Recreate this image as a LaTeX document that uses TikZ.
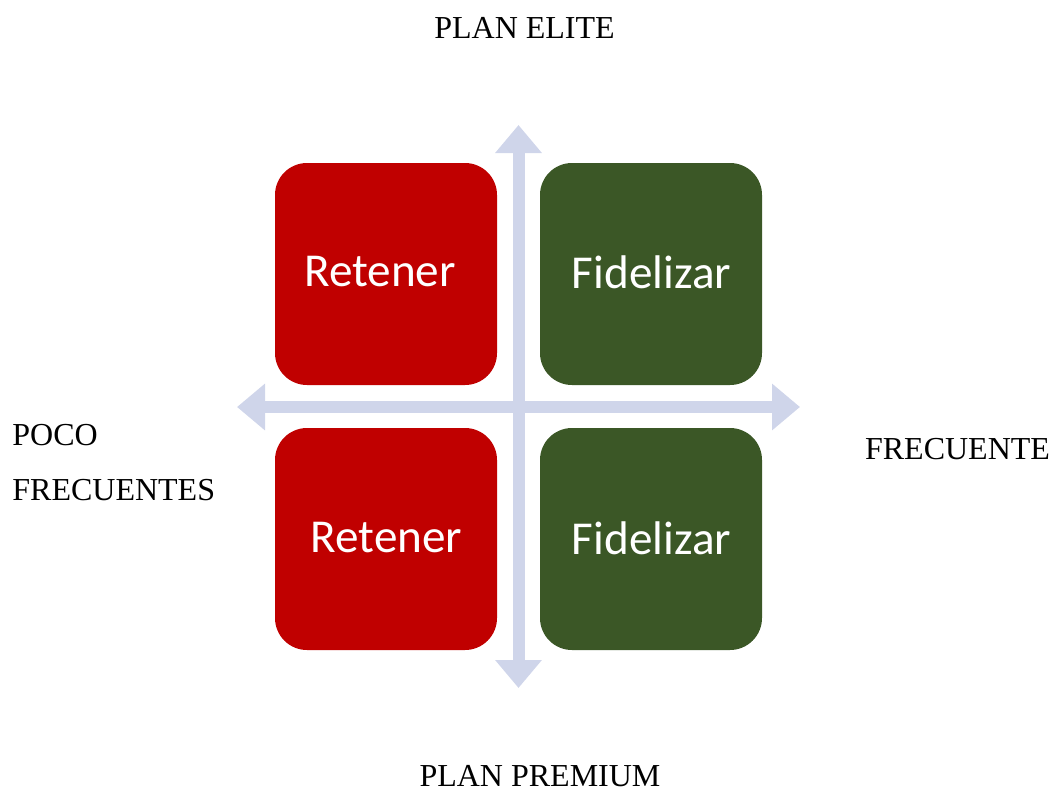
\documentclass[tikz,border=0pt]{standalone}
\usepackage{fontspec}
\setmainfont{Liberation Serif}
\newfontfamily\boxfont{Carlito}
\usepackage{tikz}
\usetikzlibrary{arrows.meta}
\usepackage{xcolor}
\definecolor{retred}{HTML}{C00000}
\definecolor{fidgreen}{HTML}{3B5726}
\definecolor{axisblue}{HTML}{CFD5EA}

\begin{document}
\begin{tikzpicture}[x=0.5pt,y=-0.5pt,
		quad/.style={rounded corners=16pt,minimum size=111pt,inner sep=0pt},
		word/.style={text=white,font=\boxfont\fontsize{23.6}{28}\selectfont},
		axislabel/.style={font=\fontsize{16}{19}\selectfont,inner sep=0pt},
		axisline/.style={axisblue,line width=6pt,
			{Triangle[width=22.5pt,length=14pt]}-{Triangle[width=22.5pt,length=14pt]}}]
		\useasboundingbox (0,0) rectangle (1054,793);
	
		\coordinate (up) at (518.5,125);
		\coordinate (down) at (518.5,688);
		\coordinate (left) at (237,407);
		\coordinate (right) at (800,407);
		\draw[axisline] (left) -- (right);
		\draw[axisline] (down) -- (up);
	
		\node[quad,fill=retred] (tl) at (386,274) {};
		\node[quad,fill=fidgreen] (tr) at (651,274) {};
		\node[quad,fill=retred] (bl) at (386,539) {};
		\node[quad,fill=fidgreen] (br) at (651,539) {};
	
		\node[word] (tltext) at (380,272) {Retener};
		\node[word] (trtext) at (651.5,272) {Fidelizar};
		\node[word] (bltext) at (386.5,538) {Retener};
		\node[word] (brtext) at (651.5,538) {Fidelizar};
	
		\node[axislabel,anchor=base] (elite) at (524.5,38.3) {PLAN ELITE};
		\node[axislabel,anchor=base] (premium) at (540,786) {PLAN PREMIUM};
		\node[axislabel,anchor=base] (frec) at (957.5,459) {FRECUENTE};
		\node[axislabel,anchor=base west] (poco) at (12,445.7) {POCO};
		\node[axislabel,anchor=base west] (pocofrec) at (12,500.7) {FRECUENTES};
	\end{tikzpicture}
\end{document}
